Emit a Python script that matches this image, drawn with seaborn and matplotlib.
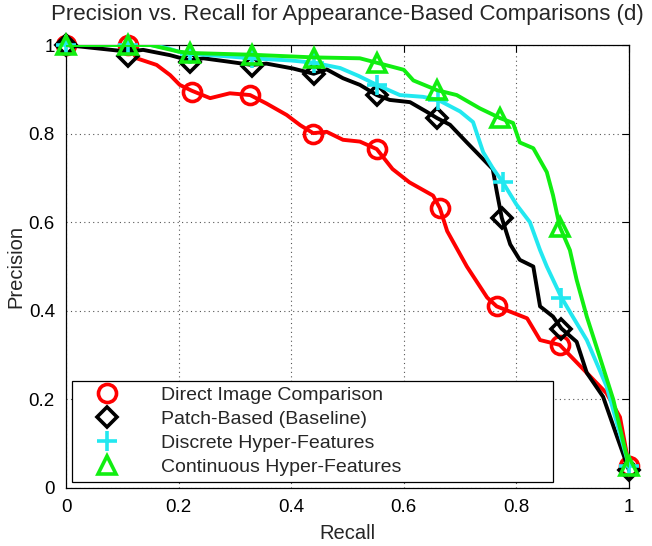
import matplotlib
matplotlib.use("Agg")
import matplotlib.pyplot as plt
import seaborn as sns
import pandas as pd

# ---- data ----
series_names = ["Direct Image Comparison", "Patch-Based (Baseline)",
                "Discrete Hyper-Features", "Continuous Hyper-Features"]

red_recall = [0, 0.11, 0.1255, 0.161, 0.185, 0.202, 0.223, 0.256, 0.291, 0.327, 0.356, 0.392,
              0.416, 0.439, 0.463, 0.492, 0.522, 0.552, 0.58, 0.61, 0.652, 0.664, 0.677, 0.712,
              0.748, 0.765, 0.819, 0.842, 0.877, 0.925, 0.96, 0.984, 1.0]
red_prec = [1, 1, 0.970, 0.955, 0.932, 0.91, 0.897, 0.880, 0.891, 0.887, 0.868, 0.842,
            0.819, 0.801, 0.804, 0.786, 0.782, 0.765, 0.72, 0.69, 0.66, 0.632, 0.58, 0.50,
            0.43, 0.41, 0.383, 0.334, 0.323, 0.26, 0.214, 0.16, 0.05]

black_recall = [0, 0.11, 0.137, 0.185, 0.22, 0.244, 0.285, 0.33, 0.356, 0.403, 0.44, 0.463,
                0.492, 0.522, 0.552, 0.575, 0.611, 0.641, 0.659, 0.682, 0.712, 0.735, 0.758,
                0.765, 0.774, 0.789, 0.806, 0.83, 0.842, 0.865, 0.88, 0.907, 0.925, 0.954,
                0.979, 1.0]
black_prec = [1, 0.985, 0.989, 0.977, 0.965, 0.970, 0.963, 0.955, 0.958, 0.947, 0.935, 0.945,
              0.925, 0.91, 0.887, 0.876, 0.871, 0.849, 0.835, 0.82, 0.78, 0.75, 0.72,
              0.67, 0.61, 0.55, 0.515, 0.50, 0.41, 0.387, 0.36, 0.33, 0.26, 0.206,
              0.115, 0.04]

cyan_recall = [0, 0.15, 0.18, 0.2, 0.22, 0.28, 0.33, 0.40, 0.44, 0.487, 0.52, 0.552, 0.593,
               0.634, 0.661, 0.70, 0.723, 0.741, 0.758, 0.776, 0.80, 0.824, 0.842, 0.854,
               0.88, 0.90, 0.925, 0.96, 1.0]
cyan_prec = [1, 1.0, 0.993, 0.985, 0.98, 0.975, 0.97, 0.965, 0.96, 0.948, 0.93, 0.91, 0.887,
             0.883, 0.876, 0.85, 0.826, 0.758, 0.722, 0.69, 0.64, 0.60, 0.537, 0.50,
             0.43, 0.387, 0.334, 0.23, 0.05]

green_recall = [0, 0.15, 0.2, 0.22, 0.33, 0.44, 0.522, 0.552, 0.60, 0.617, 0.659, 0.694,
                0.735, 0.771, 0.794, 0.806, 0.83, 0.854, 0.865, 0.877, 0.895, 0.907, 0.925,
                0.948, 0.972, 1.0]
green_prec = [1, 1, 0.985, 0.982, 0.978, 0.972, 0.97, 0.96, 0.944, 0.92, 0.898, 0.887,
              0.857, 0.835, 0.824, 0.78, 0.767, 0.713, 0.661, 0.59, 0.537, 0.47, 0.387,
              0.296, 0.2, 0.05]

# marker points
red_mk_recall = [0, 0.11, 0.223, 0.327, 0.439, 0.552, 0.664, 0.765, 0.877, 1.0]
red_mk_prec = [1, 1, 0.895, 0.887, 0.80, 0.765, 0.632, 0.41, 0.323, 0.05]
black_mk_recall = [0, 0.11, 0.22, 0.33, 0.44, 0.552, 0.659, 0.774, 0.88, 1.0]
black_mk_prec = [1, 0.975, 0.962, 0.953, 0.935, 0.887, 0.835, 0.61, 0.36, 0.04]
cyan_mk_recall = [0, 0.11, 0.22, 0.33, 0.44, 0.552, 0.661, 0.776, 0.88, 1.0]
cyan_mk_prec = [1, 1, 0.98, 0.97, 0.96, 0.91, 0.876, 0.69, 0.43, 0.05]
green_mk_recall = [0, 0.11, 0.22, 0.33, 0.44, 0.552, 0.659, 0.771, 0.877, 1.0]
green_mk_prec = [1, 1, 0.982, 0.978, 0.97, 0.96, 0.898, 0.835, 0.59, 0.05]

tick_values = [0, 0.2, 0.4, 0.6, 0.8, 1]
tick_labels = ["0", "0.2", "0.4", "0.6", "0.8", "1"]

# ---- style ----
sns.set_style("white")
plt.rcParams["font.family"] = ["Liberation Sans", "DejaVu Sans"]

colors = ["#ff0000", "#000000", "#22e8f0", "#11ee11"]
markers = ["o", "D", "+", "^"]
msizes = [13, 10, 15, 13]

fig = plt.figure(figsize=(6.52, 5.46), dpi=100)
ax = fig.add_axes([66 / 652, 1 - 488 / 546, 563 / 652, 443 / 546])

lines = [(red_recall, red_prec), (black_recall, black_prec),
         (cyan_recall, cyan_prec), (green_recall, green_prec)]
mks = [(red_mk_recall, red_mk_prec), (black_mk_recall, black_mk_prec),
       (cyan_mk_recall, cyan_mk_prec), (green_mk_recall, green_mk_prec)]

handles = []
for i, name in enumerate(series_names):
    df = pd.DataFrame({"Recall": lines[i][0], "Precision": lines[i][1]})
    sns.lineplot(data=df, x="Recall", y="Precision", sort=False, estimator=None,
                 color=colors[i], linewidth=2.8, ax=ax, zorder=3 + 2 * i, legend=False)
    h, = ax.plot(mks[i][0], mks[i][1], linestyle="none", marker=markers[i],
                 markersize=msizes[i], markerfacecolor="none", markeredgecolor=colors[i],
                 markeredgewidth=2.6, zorder=4 + 2 * i, label=name, clip_on=False)
    handles.append(h)

ax.set_xlim(0, 1)
ax.set_ylim(0, 1)
ax.set_xticks(tick_values)
ax.set_xticklabels(tick_labels)
ax.set_yticks(tick_values)
ax.set_yticklabels(tick_labels)
ax.tick_params(direction="in", length=5, width=0.8, top=True, right=True,
               labelsize=13.5, pad=8, colors="black")
ax.grid(True, linestyle=(0, (1, 3)), color="#555555", linewidth=0.8)
for s in ax.spines.values():
    s.set_color("black")
    s.set_linewidth(0.9)
    s.set_visible(True)

ax.set_xlabel("Recall", fontsize=14.5, labelpad=6)
ax.set_ylabel("Precision", fontsize=14.5, labelpad=2)
ax.set_title("Precision vs. Recall for Appearance-Based Comparisons (d)", fontsize=16, pad=18)

leg = ax.legend(handles=handles, loc="lower left",
                bbox_to_anchor=(0.0107, 0.0135, 0.854, 0.235), mode="expand",
                fontsize=14, frameon=True, fancybox=False, framealpha=1,
                edgecolor="black", labelspacing=0.33, handlelength=3.0,
                handletextpad=1.3, borderpad=0.3, borderaxespad=0)
leg.get_frame().set_linewidth(0.9)
leg.set_zorder(20)

fig.savefig("out.png", dpi=100)
